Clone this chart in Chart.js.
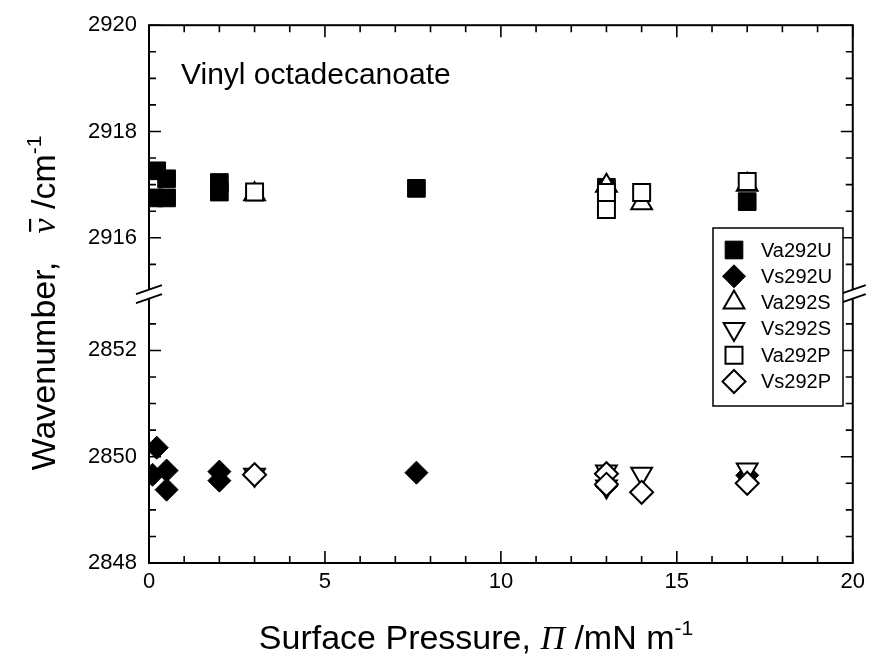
<!DOCTYPE html>
<html>
<head>
<meta charset="utf-8">
<script src="https://cdn.jsdelivr.net/npm/chart.js@4.4.1/dist/chart.umd.min.js"></script>
<style>
  body { margin: 0; background: #fff; }
  #wrap { width: 871px; height: 659px; }
</style>
</head>
<body>
<div id="wrap"><canvas id="chart"></canvas></div>
<script>
// series (x = surface pressure, y = wavenumber)
var seriesLabels = ['Va292U', 'Vs292U', 'Va292S', 'Vs292S', 'Va292P', 'Vs292P'];

var va292uX = [0.15, 0.22, 0.5, 0.5, 2, 2, 7.6, 13, 17];
var va292uY = [2916.75, 2917.26, 2917.11, 2916.75, 2917.04, 2916.86, 2916.93, 2916.95, 2916.68];
var vs292uX = [0.1, 0.22, 0.5, 0.5, 2, 2, 7.6, 13, 17];
var vs292uY = [2849.66, 2850.17, 2849.74, 2849.38, 2849.72, 2849.55, 2849.70, 2849.45, 2849.65];
var va292sX = [3, 13, 14, 17];
var va292sY = [2916.82, 2916.98, 2916.65, 2917.0];
var vs292sX = [3, 13, 13, 14, 17];
var vs292sY = [2849.66, 2849.72, 2849.44, 2849.68, 2849.76];
var va292pX = [3, 13, 13, 14, 17];
var va292pY = [2916.86, 2916.85, 2916.53, 2916.85, 2917.06];
var vs292pX = [3, 13, 13, 14, 17];
var vs292pY = [2849.66, 2849.68, 2849.48, 2849.33, 2849.5];

// axis ticks (y axis is broken between the two ranges)
var yLowerTicks = [2848, 2848.5, 2849, 2849.5, 2850, 2850.5, 2851, 2851.5, 2852, 2852.5];
var yUpperTicks = [2915.5, 2916, 2916.5, 2917, 2917.5, 2918, 2918.5, 2919, 2919.5, 2920];
var yTickLabels = [2848, 2850, 2852, 2916, 2918, 2920];
var xTickLabels = [0, 5, 10, 15, 20];

var LOW_BASE = 2848;
var HIGH_BASE = 2916;
var HIGH_OFFSET = 6.12;   // axis units where 2916 sits above 2848
var BREAK_AT = 5.06;

function toAxis(v) {
    return v > 2880 ? v - HIGH_BASE + HIGH_OFFSET : v - LOW_BASE;
}
function fromAxis(a) {
    var v = a > BREAK_AT ? a - HIGH_OFFSET + HIGH_BASE : a + LOW_BASE;
    return Math.round(v * 10) / 10;
}
function points(xs, ys) {
    return xs.map(function (x, i) { return { x: x, y: toAxis(ys[i]) }; });
}

var FONT = "Arial, 'Liberation Sans', sans-serif";
var SERIF = "'Liberation Serif', 'Times New Roman', serif";

function marker(label, xs, ys, style, filled, rotation, radius, order) {
    return {
        label: label,
        data: points(xs, ys),
        pointStyle: style,
        rotation: rotation,
        pointRadius: radius,
        pointHoverRadius: radius,
        backgroundColor: filled ? '#000' : '#fff',
        borderColor: '#000',
        borderWidth: filled ? 1 : 2,
        order: order
    };
}

var datasets = [
    marker(seriesLabels[0], va292uX, va292uY, 'rect', true, 0, 12.5, 2),
    marker(seriesLabels[1], vs292uX, vs292uY, 'rectRot', true, 0, 11.5, 2),
    marker(seriesLabels[2], va292sX, va292sY, 'triangle', false, 0, 12, 1),
    marker(seriesLabels[3], vs292sX, vs292sY, 'triangle', false, 180, 12, 1),
    marker(seriesLabels[4], va292pX, va292pY, 'rect', false, 0, 12, 0),
    marker(seriesLabels[5], vs292pX, vs292pY, 'rectRot', false, 0, 11.5, 0)
];

// draws a run of text pieces; a piece with bar:true gets an overline
function drawPieces(ctx, pieces, x, y) {
    pieces.forEach(function (p) {
        ctx.font = p.font;
        var w = ctx.measureText(p.t).width;
        ctx.fillText(p.t, x, y - (p.rise || 0));
        if (p.bar) {
            ctx.fillRect(x + w * 0.12, y - 26, w * 0.85, 2.2);
        }
        x += w;
    });
}
function piecesWidth(ctx, pieces) {
    var w = 0;
    pieces.forEach(function (p) { ctx.font = p.font; w += ctx.measureText(p.t).width; });
    return w;
}

var framePlugin = {
    id: 'frame',
    beforeDatasetsDraw: function (chart) {
        var ctx = chart.ctx, a = chart.chartArea;
        var xs = chart.scales.x, ys = chart.scales.y;
        ctx.save();
        ctx.strokeStyle = '#000';
        ctx.lineWidth = 2;
        ctx.strokeRect(a.left, a.top, a.right - a.left, a.bottom - a.top);
        ctx.lineWidth = 1.6;
        ctx.beginPath();
        ys.ticks.forEach(function (t) {
            var py = ys.getPixelForValue(t.value);
            var len = yTickLabels.indexOf(fromAxis(t.value)) >= 0 ? 12 : 7;
            ctx.moveTo(a.left, py); ctx.lineTo(a.left + len, py);
            ctx.moveTo(a.right, py); ctx.lineTo(a.right - len, py);
        });
        xs.ticks.forEach(function (t) {
            var px = xs.getPixelForValue(t.value);
            var len = xTickLabels.indexOf(t.value) >= 0 ? 12 : 7;
            ctx.moveTo(px, a.bottom); ctx.lineTo(px, a.bottom - len);
            ctx.moveTo(px, a.top); ctx.lineTo(px, a.top + len);
        });
        ctx.stroke();
        ctx.restore();
    },
    afterDraw: function (chart) {
        var ctx = chart.ctx, a = chart.chartArea;
        var ys = chart.scales.y;
        ctx.save();

        // axis breaks
        var by = ys.getPixelForValue(BREAK_AT);
        [a.left, a.right].forEach(function (bx) {
            ctx.fillStyle = '#fff';
            ctx.beginPath();
            ctx.moveTo(bx - 13, by + 9); ctx.lineTo(bx + 13, by);
            ctx.lineTo(bx + 13, by - 9); ctx.lineTo(bx - 13, by);
            ctx.closePath();
            ctx.fill();
            ctx.strokeStyle = '#000';
            ctx.lineWidth = 2;
            ctx.beginPath();
            ctx.moveTo(bx - 13, by + 9); ctx.lineTo(bx + 13, by);
            ctx.moveTo(bx - 13, by); ctx.lineTo(bx + 13, by - 9);
            ctx.stroke();
        });

        // in-plot title
        ctx.fillStyle = '#000';
        ctx.textBaseline = 'alphabetic';
        ctx.font = '30px ' + FONT;
        ctx.fillText('Vinyl octadecanoate', 181, 84);

        // legend box
        var lx = 713, ly = 228, lw = 130, lh = 178;
        ctx.fillStyle = '#fff';
        ctx.fillRect(lx, ly, lw, lh);
        ctx.strokeStyle = '#000';
        ctx.lineWidth = 1.5;
        ctx.strokeRect(lx, ly, lw, lh);
        chart.data.datasets.forEach(function (ds, i) {
            var cy = 250 + i * 26.3;
            ctx.fillStyle = ds.backgroundColor;
            ctx.strokeStyle = ds.borderColor;
            ctx.lineWidth = ds.borderWidth;
            Chart.helpers.drawPoint(ctx, {
                pointStyle: ds.pointStyle,
                rotation: ds.rotation,
                radius: ds.pointRadius,
                borderWidth: ds.borderWidth
            }, 734, cy);
            ctx.fillStyle = '#000';
            ctx.font = '20px ' + FONT;
            ctx.textBaseline = 'middle';
            ctx.fillText(ds.label, 761, cy + 1);
        });

        // axis titles
        ctx.textBaseline = 'alphabetic';
        ctx.fillStyle = '#000';
        var xt = [
            { t: 'Surface Pressure, ', font: '34px ' + FONT },
            { t: '\u03A0', font: 'italic 34px ' + SERIF },
            { t: ' /mN m', font: '34px ' + FONT },
            { t: '-1', font: '21px ' + FONT, rise: 14 }
        ];
        var w = piecesWidth(ctx, xt);
        drawPieces(ctx, xt, 476 - w / 2, 649);

        var yt = [
            { t: 'Wavenumber,   ', font: '34px ' + FONT },
            { t: '\u03BD', font: 'italic 34px ' + SERIF, bar: true },
            { t: ' /cm', font: '34px ' + FONT },
            { t: '-1', font: '21px ' + FONT, rise: 14 }
        ];
        w = piecesWidth(ctx, yt);
        ctx.translate(55, 303);
        ctx.rotate(-Math.PI / 2);
        drawPieces(ctx, yt, -w / 2, 0);
        ctx.restore();
    }
};

new Chart(document.getElementById('chart'), {
    type: 'scatter',
    data: { datasets: datasets },
    plugins: [framePlugin],
    options: {
        responsive: true,
        maintainAspectRatio: false,
        animation: false,
        layout: { padding: { top: 21, right: 13, left: 0, bottom: 0 } },
        plugins: {
            legend: { display: false },
            tooltip: { enabled: false }
        },
        scales: {
            x: {
                type: 'linear',
                min: 0,
                max: 20,
                grid: { display: false, drawTicks: false },
                border: { display: false },
                ticks: {
                    stepSize: 1,
                    autoSkip: false,
                    maxRotation: 0,
                    padding: 6,
                    color: '#000',
                    font: { family: FONT, size: 22 },
                    callback: function (value) {
                        return xTickLabels.indexOf(value) >= 0 ? String(value) : '';
                    }
                },
                afterFit: function (scale) { scale.height = 96; }
            },
            y: {
                type: 'linear',
                min: 0,
                max: toAxis(2920),
                grid: { display: false, drawTicks: false },
                border: { display: false },
                afterBuildTicks: function (scale) {
                    scale.ticks = yLowerTicks.concat(yUpperTicks).map(function (v) {
                        return { value: toAxis(v) };
                    });
                },
                ticks: {
                    autoSkip: false,
                    padding: 12,
                    color: '#000',
                    font: { family: FONT, size: 22 },
                    callback: function (value) {
                        var v = fromAxis(value);
                        return yTickLabels.indexOf(v) >= 0 ? String(v) : '';
                    }
                },
                afterFit: function (scale) { scale.width = 149; }
            }
        }
    }
});
</script>
</body>
</html>
